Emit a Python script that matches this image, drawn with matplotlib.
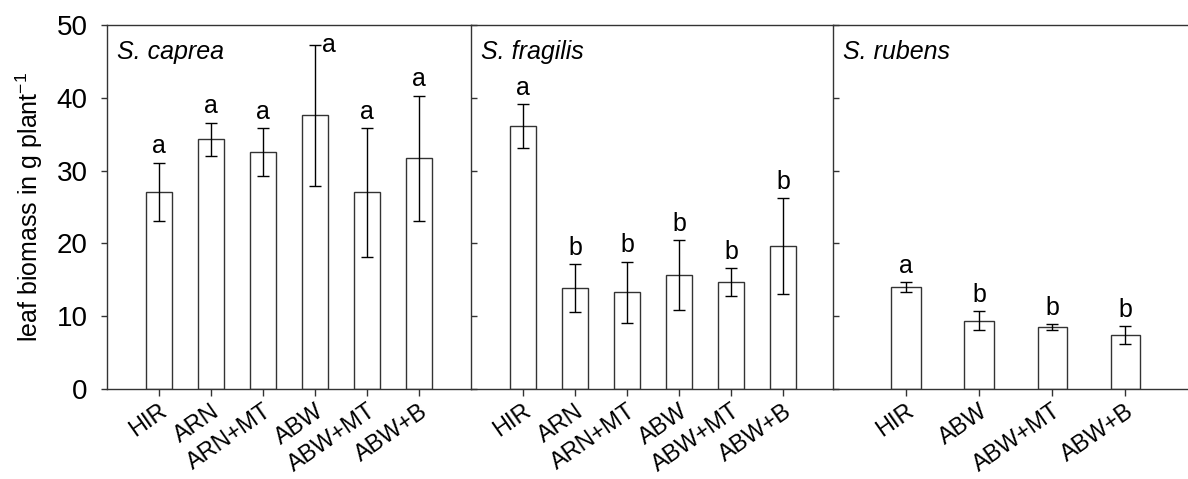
import matplotlib
matplotlib.use("Agg")
import matplotlib.pyplot as plt

plt.rcParams["font.family"] = ["Liberation Sans", "DejaVu Sans"]
plt.rcParams["mathtext.fontset"] = "custom"
plt.rcParams["mathtext.rm"] = "Liberation Sans"
plt.rcParams["mathtext.it"] = "Liberation Sans:italic"

# --- data ---
species = ["S. caprea", "S. fragilis", "S. rubens"]

caprea_labels = ["HIR", "ARN", "ARN+MT", "ABW", "ABW+MT", "ABW+B"]
caprea_mean = [27.1, 34.3, 32.5, 37.6, 27.0, 31.7]
caprea_err = [4.0, 2.3, 3.3, 9.7, 8.8, 8.6]
caprea_sig = ["a", "a", "a", "a", "a", "a"]

fragilis_labels = ["HIR", "ARN", "ARN+MT", "ABW", "ABW+MT", "ABW+B"]
fragilis_mean = [36.1, 13.9, 13.3, 15.6, 14.7, 19.6]
fragilis_err = [3.05, 3.3, 4.2, 4.8, 1.95, 6.6]
fragilis_sig = ["a", "b", "b", "b", "b", "b"]

rubens_labels = ["HIR", "ABW", "ABW+MT", "ABW+B"]
rubens_mean = [14.0, 9.4, 8.5, 7.4]
rubens_err = [0.65, 1.3, 0.45, 1.25]
rubens_sig = ["a", "b", "b", "b"]

W, H = 1188, 479
fig = plt.figure(figsize=(W / 100, H / 100), dpi=100)

def px_axes(x0, x1, y0=25, y1=389):
    return fig.add_axes([x0 / W, (H - y1) / H, (x1 - x0) / W, (y1 - y0) / H])

panels = [
    (px_axes(107, 471), caprea_labels, caprea_mean, caprea_err, caprea_sig, 7.0, 0.5),
    (px_axes(471, 833), fragilis_labels, fragilis_mean, fragilis_err, fragilis_sig, 6.96, 0.5),
    (px_axes(833, 1188), rubens_labels, rubens_mean, rubens_err, rubens_sig, 4.86, 0.4),
]

line_col = "#333333"
for i, (ax, labels, mean, err, sig, xmax, bw) in enumerate(panels):
    pos = list(range(1, len(labels) + 1))
    ax.bar(pos, mean, width=bw, color="white", edgecolor=line_col, linewidth=1.0, zorder=2)
    ax.errorbar(pos, mean, yerr=err, fmt="none", ecolor="black", elinewidth=1.0,
                capsize=4, capthick=1.0, zorder=3)
    for p, m, e, s in zip(pos, mean, err, sig):
        if m + e > 45:
            # letter would hit the top frame, put it beside the whisker
            ax.annotate(s, (p, m + e), xytext=(5, 0), textcoords="offset points",
                        ha="left", va="center", fontsize=18)
        else:
            ax.annotate(s, (p, m + e), xytext=(0, 3), textcoords="offset points",
                        ha="center", va="bottom", fontsize=18)

    ax.set_xlim(0, xmax)
    ax.set_ylim(0, 50)
    ax.set_xticks(pos)
    ax.set_xticklabels(labels, rotation=35, ha="right", rotation_mode="anchor", fontsize=17)
    ax.tick_params(axis="x", direction="out", length=5, width=1, color=line_col, pad=3)
    ax.text(0.027, 0.96, species[i], transform=ax.transAxes, ha="left", va="top",
            fontsize=18, style="italic")
    for sp in ax.spines.values():
        sp.set_color(line_col)
        sp.set_linewidth(1.0)
    ax.spines["right"].set_visible(False)
    ax.set_yticks([0, 10, 20, 30, 40, 50])
    if i == 0:
        ax.tick_params(axis="y", direction="out", length=4, width=1, color=line_col,
                       labelsize=20, pad=10)
        ax.set_ylabel("leaf biomass in g plant$^{-1}$", fontsize=18, labelpad=8)
    else:
        ax.tick_params(axis="y", direction="in", length=4, width=1, color=line_col,
                       labelleft=False)

fig.savefig("out.png", dpi=100)
